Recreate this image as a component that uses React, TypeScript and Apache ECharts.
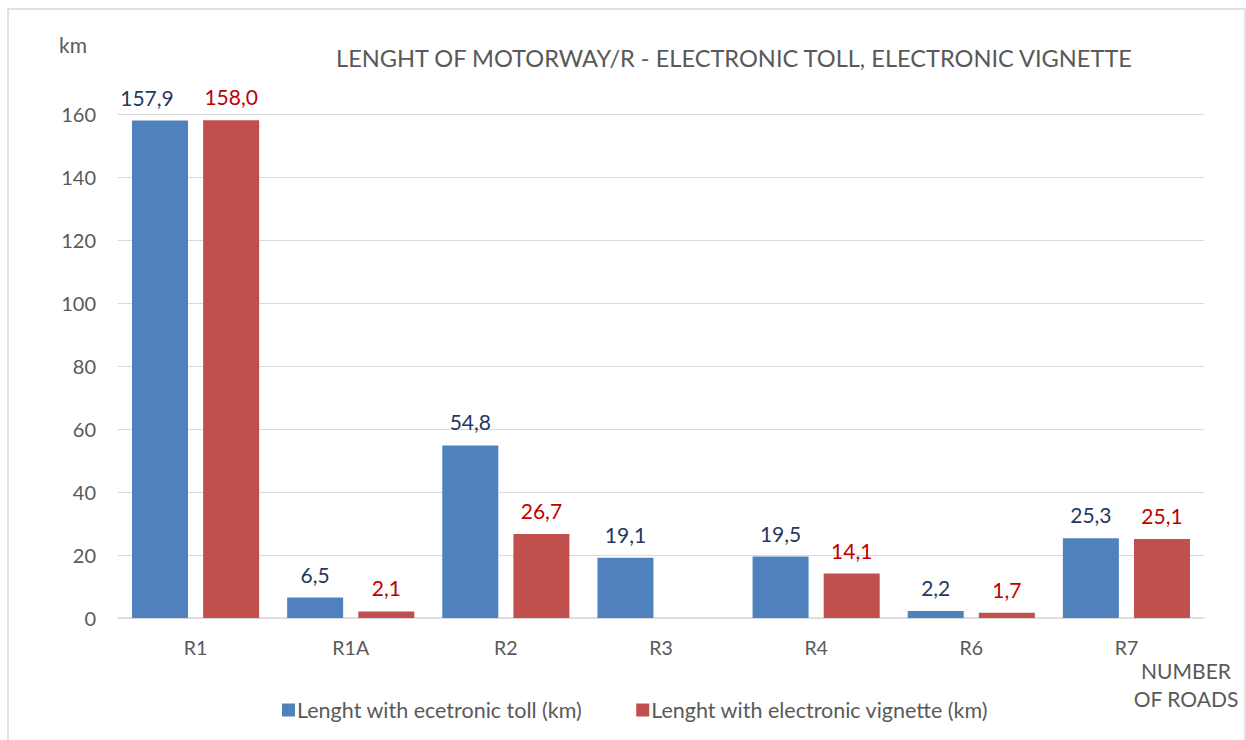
import React, { useEffect, useRef } from "react";
import * as echarts from "echarts";

const categories = ["R1", "R1A", "R2", "R3", "R4", "R6", "R7"];
const tollValues: (number | null)[] = [157.9, 6.5, 54.8, 19.1, 19.5, 2.2, 25.3];
const vignetteValues: (number | null)[] = [158.0, 2.1, 26.7, null, 14.1, 1.7, 25.1];
const seriesNames = ["Lenght with ecetronic toll (km)", "Lenght with electronic vignette (km)"];
const titleText = "LENGHT OF MOTORWAY/R - ELECTRONIC TOLL, ELECTRONIC VIGNETTE";

const FONT = "Lato, 'Open Sans', sans-serif";

export default function App() {
  const ref = useRef<HTMLDivElement>(null);
  useEffect(() => {
    if (!ref.current) return;
    const chart = echarts.init(ref.current, undefined, { renderer: "svg" });
    const fmt = (p: any) => (p.value == null ? "" : Number(p.value).toFixed(1).replace(".", ","));
    const tollData = tollValues.map((v, i) =>
      i === 0 ? { value: v, label: { offset: [-13, 0] } } : v
    );
    chart.setOption({
      animation: false,
      backgroundColor: "#ffffff",
      textStyle: { fontFamily: FONT },
      title: {
        text: titleText,
        left: 729,
        top: 41,
        textAlign: "center",
        textStyle: { fontFamily: FONT, fontSize: 23.6, fontWeight: "normal", color: "#595959" },
      },
      legend: {
        bottom: 14,
        left: 277,
        itemWidth: 13,
        itemHeight: 13,
        itemGap: 54,
        icon: "rect",
        textStyle: { fontFamily: FONT, fontSize: 21.5, color: "#595959", padding: [0, 0, 0, -3] },
        data: seriesNames,
      },
      graphic: [
        {
          type: "rect",
          shape: { x: 8, y: 9, width: 1237, height: 760 },
          style: { fill: "none", stroke: "#D9D9D9", lineWidth: 1.5 },
          silent: true,
        },
        {
          type: "text",
          x: 59,
          y: 34,
          style: { text: "km", fontFamily: FONT, fontSize: 21, fill: "#595959" },
        },
        {
          type: "text",
          x: 1186,
          y: 656,
          style: {
            text: "NUMBER\nOF ROADS",
            fontFamily: FONT,
            fontSize: 21,
            lineHeight: 28,
            fill: "#595959",
            align: "center",
          },
        },
      ],
      grid: { left: 118, right: 42, top: 114, bottom: 122, containLabel: false },
      xAxis: {
        type: "category",
        data: categories,
        axisLine: { lineStyle: { color: "#D9D9D9", width: 1.5 } },
        axisTick: { show: false },
        axisLabel: { color: "#595959", fontSize: 19.5, fontFamily: FONT, margin: 19 },
      },
      yAxis: {
        type: "value",
        min: 0,
        max: 160,
        interval: 20,
        axisLine: { show: false },
        axisTick: { show: false },
        splitLine: { lineStyle: { color: "#D9D9D9", width: 1 } },
        axisLabel: { color: "#595959", fontSize: 20, fontFamily: FONT, margin: 22 },
      },
      series: [
        {
          name: seriesNames[0],
          type: "bar",
          data: tollData,
          barWidth: 56,
          barGap: "27%",
          itemStyle: { color: "#4F81BD" },
          label: {
            show: true,
            position: "top",
            distance: 13,
            formatter: fmt,
            color: "#1F3864",
            fontSize: 21,
            fontFamily: FONT,
          },
        },
        {
          name: seriesNames[1],
          type: "bar",
          data: vignetteValues,
          barWidth: 56,
          barGap: "27%",
          itemStyle: { color: "#C0504D" },
          label: {
            show: true,
            position: "top",
            distance: 13,
            formatter: fmt,
            color: "#C00000",
            fontSize: 21,
            fontFamily: FONT,
          },
        },
      ],
    });
    return () => chart.dispose();
  }, []);
  return <div ref={ref} style={{ position: "fixed", left: 0, top: 0, width: 1246, height: 740 }} />;
}
